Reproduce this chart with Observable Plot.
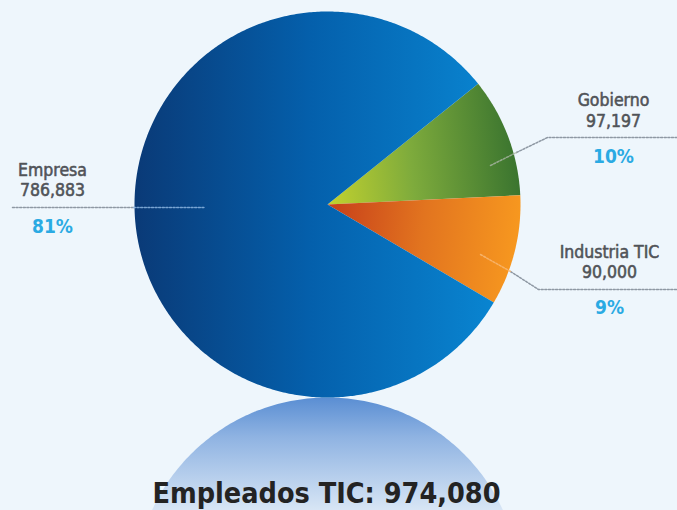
<!DOCTYPE html>
<html>
<head>
<meta charset="utf-8">
<script src="https://cdn.jsdelivr.net/npm/d3@7"></script>
<script src="https://cdn.jsdelivr.net/npm/@observablehq/plot@0.6"></script>
<style>
  html, body { margin: 0; padding: 0; background: #eef6fc; }
  #chart svg { display: block; }
</style>
</head>
<body>
<div id="chart"></div>
<script>
// ---- data ----
const categories = ["Gobierno", "Industria TIC", "Empresa"];
const employees = [97197, 90000, 786883];
const shares = ["10%", "9%", "81%"];
const totalTitle = "Empleados TIC";

// ---- layout (pixels) ----
const W = 677, H = 510;
const cx = 327, cy = 204, R = 193;
const reflCy = 590;
const startDeg = 51.3;
const gradIds = ["gGob", "gInd", "gEmp"];
const labelX = [613, 609, 52];
const labelY = [[100, 121, 156], [252, 272, 307], [170, 190, 226]];
const leaders = [
  [[516, 152], [547, 137], [677, 137]],
  [[510, 271], [538, 289], [677, 289]],
  [[12, 207], [133, 207]]
];
const innerLeaders = [
  [[490, 165], [516, 152]],
  [[480, 254], [510, 271]],
  [[133, 207], [205, 207]]
];
const innerColors = ["#a7b4a2", "#f8b874", "#8db6e2"];

const fmt = d3.format(",");
const total = d3.sum(employees);
const rows = categories.map((c, i) => ({name: c, value: employees[i], share: shares[i], i}));

const arcs = d3.pie().sort(null).value(d => d.value)
  .startAngle(startDeg * Math.PI / 180)
  .endAngle(startDeg * Math.PI / 180 + 2 * Math.PI)(rows);

function slicePoly(a) {
  const pts = [{x: cx, y: cy}];
  const n = Math.max(8, Math.ceil((a.endAngle - a.startAngle) / 0.01));
  for (let k = 0; k <= n; k++) {
    const t = a.startAngle + (a.endAngle - a.startAngle) * k / n;
    pts.push({x: cx + R * Math.sin(t), y: cy - R * Math.cos(t)});
  }
  pts.push({x: cx, y: cy});
  return pts;
}
const reflPts = d3.range(0, 361).map(k => {
  const t = k * Math.PI / 180;
  return {x: cx + R * Math.sin(t), y: reflCy - R * Math.cos(t)};
});

const marks = [];
// reflection
marks.push(Plot.line(reflPts, {x: "x", y: "y", fill: "url(#gRefl)", stroke: "none"}));
// slices
arcs.forEach(a => {
  marks.push(Plot.line(slicePoly(a), {x: "x", y: "y", fill: `url(#${gradIds[a.data.i]})`, stroke: "none"}));
});
// leader lines
leaders.forEach(l => {
  marks.push(Plot.line(l.map(([x, y]) => ({x, y})), {x: "x", y: "y", stroke: "#8e98a3", strokeWidth: 1.5, strokeDasharray: "2,1.6"}));
});
innerLeaders.forEach((l, i) => {
  marks.push(Plot.line(l.map(([x, y]) => ({x, y})), {x: "x", y: "y", stroke: innerColors[i], strokeOpacity: 0.85, strokeWidth: 1.5, strokeDasharray: "2,1.6"}));
});
// labels
const lab = {fill: "#505358", stroke: "#505358", strokeWidth: 0.55, fontSize: 17.5, fontFamily: "DejaVu Sans Condensed"};
rows.forEach(r => {
  const x = labelX[r.i], ys = labelY[r.i];
  marks.push(Plot.text([r], {...lab, x: () => x, y: () => ys[0], text: "name", letterSpacing: 0.8}));
  marks.push(Plot.text([r], {...lab, x: () => x, y: () => ys[1], text: d => fmt(d.value), letterSpacing: 0.4}));
  marks.push(Plot.text([r], {x: () => x, y: () => ys[2], text: "share", fill: "#2aaae3", fontSize: 19, fontWeight: "bold", fontFamily: "DejaVu Sans Condensed"}));
});
// title
marks.push(Plot.text([totalTitle + ": " + fmt(total)], {x: () => 326, y: () => 493, text: d => d, fill: "#232323", fontSize: 28.5, fontWeight: "bold", fontFamily: "DejaVu Sans Condensed"}));

const plot = Plot.plot({
  width: W, height: H, margin: 0,
  x: {domain: [0, W], axis: null},
  y: {domain: [0, H], reverse: true, axis: null},
  style: {background: "#eef6fc", overflow: "hidden"},
  marks
});

const svg = d3.select(plot.tagName.toLowerCase() === "svg" ? plot : plot.querySelector("svg"));
const defs = svg.insert("defs", ":first-child");
function lin(id, x1, y1, x2, y2, stops) {
  const g = defs.append("linearGradient").attr("id", id).attr("gradientUnits", "userSpaceOnUse")
    .attr("x1", x1).attr("y1", y1).attr("x2", x2).attr("y2", y2);
  stops.forEach(([o, c]) => g.append("stop").attr("offset", o).attr("stop-color", c));
}
lin("gEmp", cx - R, 0, cx + R, 0, [[0, "#0a3a77"], [0.45, "#045fab"], [1, "#0a8ad6"]]);
lin("gGob", cx, cy, cx + R, cy - 20, [[0, "#c3d22e"], [0.45, "#7eab3c"], [1, "#3a742f"]]);
lin("gInd", cx, cy, cx + R, cy + 20, [[0, "#c63e1a"], [0.5, "#e2741f"], [1, "#f7981f"]]);
lin("gRefl", 0, reflCy - R, 0, H, [[0, "#5a8ed3"], [0.35, "#8fb3e2"], [1, "#d8e6f5"]]);

document.getElementById("chart").appendChild(plot);
</script>
</body>
</html>
